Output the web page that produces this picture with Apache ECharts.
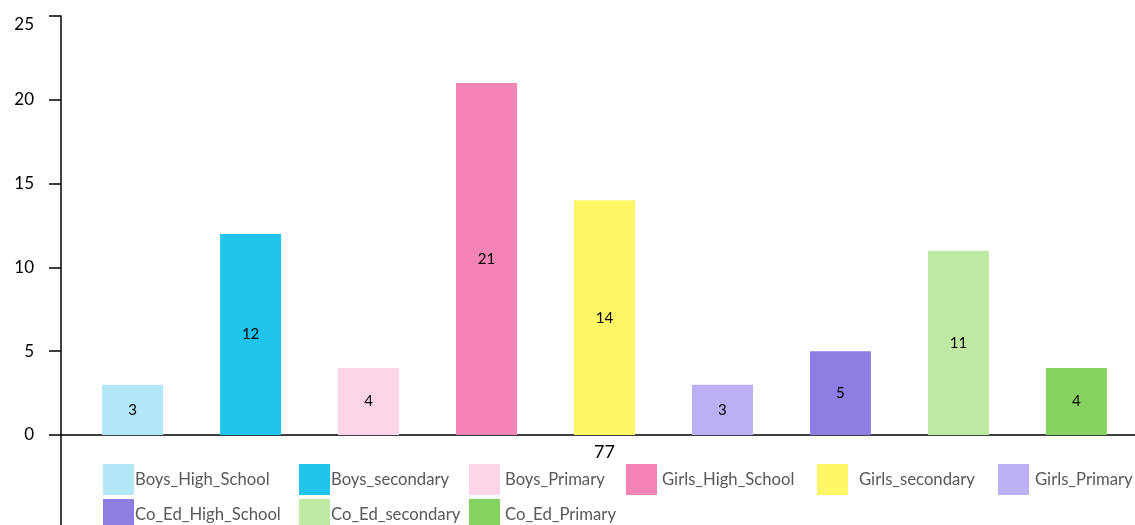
<!DOCTYPE html>
<html>
<head>
<meta charset="utf-8">
<script src="https://cdn.jsdelivr.net/npm/echarts@6/dist/echarts.min.js"></script>
<style>html,body{margin:0;padding:0;background:#fff}#c{width:1135px;height:525px}</style>
</head>
<body>
<div id="c"></div>
<script>
const categories = ['77'];
const seriesNames = ['Boys_High_School','Boys_secondary','Boys_Primary','Girls_High_School','Girls_secondary','Girls_Primary','Co_Ed_High_School','Co_Ed_secondary','Co_Ed_Primary'];
const seriesValues = [3, 12, 4, 21, 14, 3, 5, 11, 4];
const yTickValues = [0, 5, 10, 15, 20, 25];

const colors = ['#B4E7F8','#20C4EC','#FDD5E8','#F484B6','#FFF766','#BCB0F2','#8E7DE2','#BFE8A2','#85D260'];
const legendPos = [[103,464,-4],[299,464,-4],[469,464,0],[626,464,0],[817,464,6],[998,464,1],[103,499,-4],[299,499,-4],[469,499,0]];
const FONT = 'Lato';

const chart = echarts.init(document.getElementById('c'), null, {renderer:'canvas'});
chart.setOption({
  animation: false,
  color: colors,
  textStyle: {fontFamily: FONT},
  grid: {left: 61, right: -13, top: 16, bottom: 0, containLabel: false, outerBoundsMode: 'none'},
  legend: seriesNames.map((n, i) => ({
    data: [n], left: legendPos[i][0], top: legendPos[i][1], padding: 0,
    itemWidth: 31, itemHeight: 31, icon: 'rect', selectedMode: false,
    textStyle: {fontFamily: FONT, fontSize: 16.7, color: '#595959', padding: [0,0,0,legendPos[i][2]]}
  })),
  xAxis: {
    type: 'category', data: categories, position: 'bottom', offset: -90,
    axisLine: {onZero: false, lineStyle: {color: '#000', width: 1.5}},
    axisTick: {alignWithLabel: true, length: 5, lineStyle: {color: '#000', width: 1.5}},
    axisLabel: {fontFamily: FONT, fontSize: 18, color: '#000', margin: 8},
    splitLine: {show: false}
  },
  yAxis: {
    type: 'value', min: -5.37, max: 25,
    axisLine: {show: true, lineStyle: {color: '#000', width: 1.5}},
    axisTick: {show: true, length: 12, customValues: yTickValues, lineStyle: {color: '#000', width: 1.5}},
    axisLabel: {fontFamily: FONT, fontSize: 17, color: '#000', margin: 27, customValues: yTickValues,
      verticalAlignMaxLabel: 'top'},
    splitLine: {show: false}
  },
  series: seriesNames.map((n, i) => ({
    name: n, type: 'bar', data: [seriesValues[i]],
    barWidth: 61, barGap: '93.4%',
    label: {show: true, position: 'inside', color: '#000', fontFamily: FONT, fontSize: 15}
  }))
});
</script>
</body>
</html>
